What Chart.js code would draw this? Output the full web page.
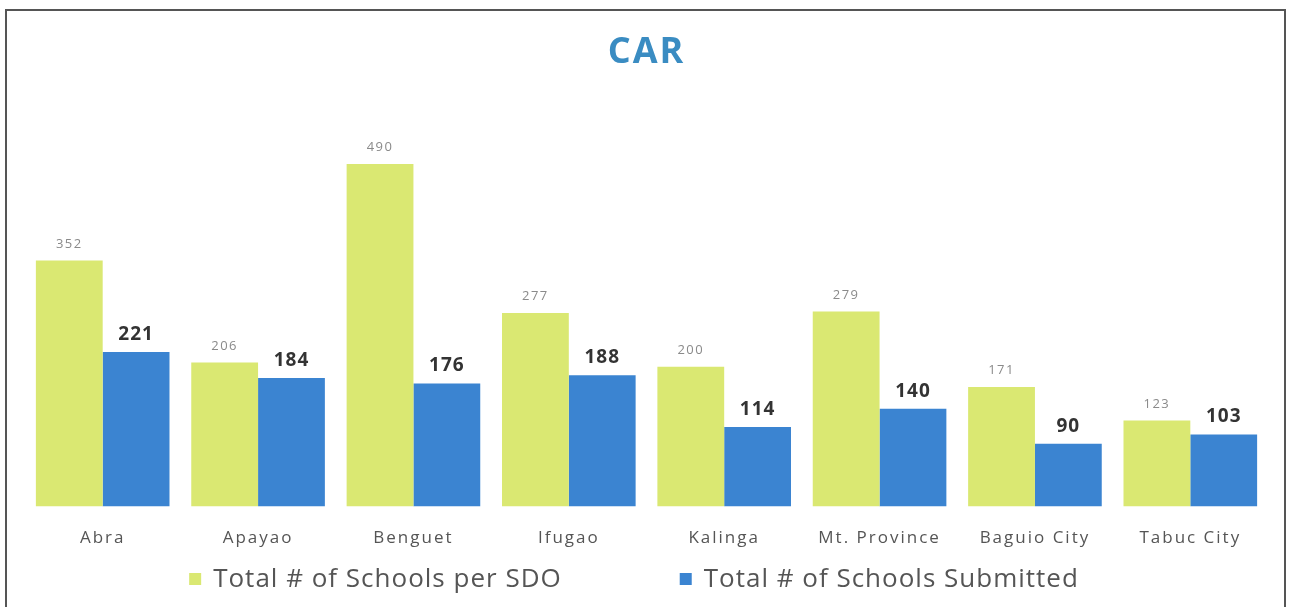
<!DOCTYPE html>
<html>
<head>
<meta charset="utf-8">
<script src="https://cdn.jsdelivr.net/npm/chart.js@4"></script>
<style>
  html, body { margin: 0; padding: 0; background: #fff; overflow: hidden; }
  #frame {
    position: absolute; left: 5px; top: 9px; width: 1281px; height: 640px;
    border: 2px solid #555; box-sizing: border-box;
  }
  #wrap { position: absolute; left: 0; top: 0; width: 1292px; height: 607px; }
</style>
</head>
<body>
<div id="frame"></div>
<div id="wrap"><canvas id="chart"></canvas></div>
<script>
// --- Data ---
const CATEGORIES = ['Abra', 'Apayao', 'Benguet', 'Ifugao', 'Kalinga', 'Mt. Province', 'Baguio City', 'Tabuc City'];
const SCHOOLS_PER_SDO = [352, 206, 490, 277, 200, 279, 171, 123];
const SCHOOLS_SUBMITTED = [221, 184, 176, 188, 114, 140, 90, 103];
const SERIES_NAMES = ['Total # of Schools per SDO', 'Total # of Schools Submitted'];

const FONT = '"Open Sans", "Noto Sans", sans-serif';

// scan looks a bit stretched, so all text gets some letter spacing
const spacing = {
  id: 'spacing',
  beforeDraw(chart) {
    chart.ctx.letterSpacing = '2px';
  },
};

// --- Label di atas batang + legenda ---
const barLabels = {
  id: 'barLabels',
  afterDatasetsDraw(chart) {
    const ctx = chart.ctx;
    ctx.save();
    ctx.textAlign = 'center';
    ctx.textBaseline = 'bottom';
    chart.data.datasets.forEach((ds, i) => {
      const meta = chart.getDatasetMeta(i);
      if (i === 0) {
        ctx.font = '13px ' + FONT;
        ctx.letterSpacing = '1.5px';
        ctx.fillStyle = '#8a8a8a';
      } else {
        ctx.font = 'bold 19px ' + FONT;
        ctx.letterSpacing = '1px';
        ctx.fillStyle = '#333';
      }
      meta.data.forEach((bar, j) => {
        ctx.fillText(ds.data[j], bar.x, bar.y - (i === 0 ? 10 : 8));
      });
    });
    ctx.restore();
  },
  afterDraw(chart) {
    const ctx = chart.ctx;
    const box = 12, gapText = 12, gapItem = 118;
    ctx.save();
    ctx.font = '26px ' + FONT;
    ctx.letterSpacing = '1px';
    ctx.textBaseline = 'middle';
    ctx.textAlign = 'left';
    const items = chart.data.datasets.map((ds) => ({
      text: ds.label,
      color: ds.backgroundColor,
      w: box + gapText + ctx.measureText(ds.label).width,
    }));
    const total = items.reduce((s, it) => s + it.w, 0) + gapItem * (items.length - 1);
    let x = chart.width / 2 - total / 2 - 12;
    const y = chart.height - 28;
    items.forEach((it) => {
      ctx.fillStyle = it.color;
      ctx.fillRect(x, y - box / 2, box, box);
      ctx.fillStyle = '#555';
      ctx.fillText(it.text, x + box + gapText, y + 1);
      x += it.w + gapItem;
    });
    ctx.restore();
  },
};

new Chart(document.getElementById('chart'), {
  type: 'bar',
  data: {
    labels: CATEGORIES,
    datasets: [
      {
        label: SERIES_NAMES[0],
        data: SCHOOLS_PER_SDO,
        backgroundColor: '#dae872',
        categoryPercentage: 0.86,
        barPercentage: 1,
      },
      {
        label: SERIES_NAMES[1],
        data: SCHOOLS_SUBMITTED,
        backgroundColor: '#3b84d1',
        categoryPercentage: 0.86,
        barPercentage: 1,
      },
    ],
  },
  options: {
    responsive: true,
    maintainAspectRatio: false,
    animation: false,
    layout: { padding: { left: 25, right: 24, top: 0, bottom: 46 } },
    scales: {
      x: {
        grid: { display: false },
        border: { display: false },
        ticks: { color: '#555', font: { family: FONT, size: 17 }, padding: 13 },
      },
      y: {
        display: false,
        min: 0,
        max: 607,
      },
    },
    plugins: {
      title: {
        display: true,
        text: 'CAR',
        color: '#3a8cc2',
        font: { family: FONT, size: 36, weight: 'bold' },
        padding: { top: 31, bottom: 8 },
      },
      legend: { display: false },
      tooltip: { enabled: false },
    },
  },
  plugins: [spacing, barLabels],
});
</script>
</body>
</html>
